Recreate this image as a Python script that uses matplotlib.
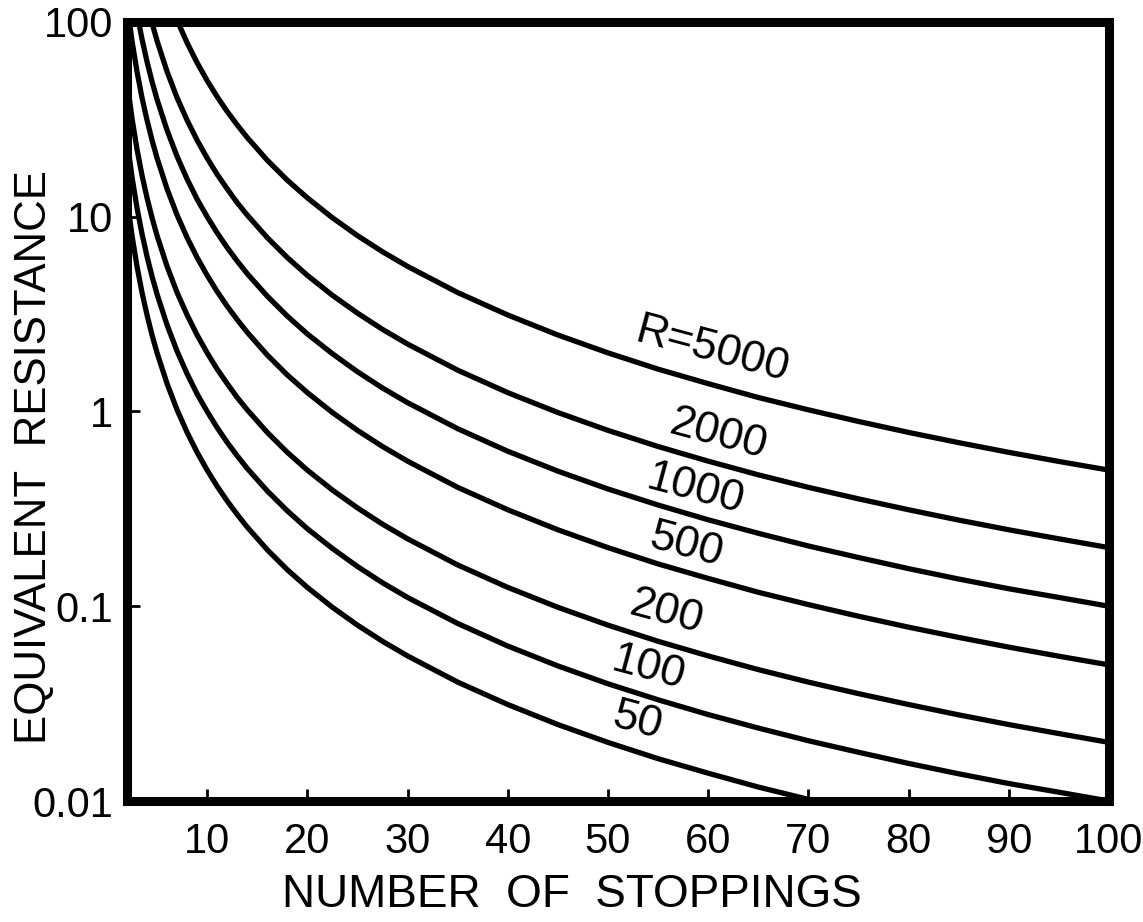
import matplotlib
matplotlib.use('Agg')
from matplotlib import pyplot as plt

plt.rcParams['font.family'] = ['Liberation Sans', 'DejaVu Sans']

# number of stoppings where the curves were read
stoppings = [2, 2.5, 3, 3.5, 4, 4.5, 5, 6, 7, 8, 9, 10, 11, 12, 13, 14, 16, 18,
             20, 22.5, 25, 27.5, 30, 35, 40, 45, 50, 55, 60, 65, 70, 75, 80,
             85, 90, 95, 100]

# equivalent resistance, one list per R
r5000 = [1250, 800, 556, 408, 313, 247, 200, 139, 102, 78.1, 61.7, 50.0, 41.3,
         34.7, 29.6, 25.5, 19.5, 15.4, 12.5, 9.88, 8.00, 6.61, 5.56, 4.08,
         3.13, 2.47, 2.00, 1.65, 1.39, 1.18, 1.02, 0.889, 0.781, 0.692, 0.617,
         0.554, 0.500]
r2000 = [500, 320, 222, 163, 125, 98.8, 80.0, 55.6, 40.8, 31.3, 24.7, 20.0,
         16.5, 13.9, 11.8, 10.2, 7.81, 6.17, 5.00, 3.95, 3.20, 2.64, 2.22,
         1.63, 1.25, 0.988, 0.800, 0.661, 0.556, 0.473, 0.408, 0.356, 0.313,
         0.277, 0.247, 0.222, 0.200]
r1000 = [250, 160, 111, 81.6, 62.5, 49.4, 40.0, 27.8, 20.4, 15.6, 12.3, 10.0,
         8.26, 6.94, 5.92, 5.10, 3.91, 3.09, 2.50, 1.98, 1.60, 1.32, 1.11,
         0.816, 0.625, 0.494, 0.400, 0.331, 0.278, 0.237, 0.204, 0.178, 0.156,
         0.138, 0.123, 0.111, 0.100]
r500 = [125, 80.0, 55.6, 40.8, 31.3, 24.7, 20.0, 13.9, 10.2, 7.81, 6.17, 5.00,
        4.13, 3.47, 2.96, 2.55, 1.95, 1.54, 1.25, 0.988, 0.800, 0.661, 0.556,
        0.408, 0.313, 0.247, 0.200, 0.165, 0.139, 0.118, 0.102, 0.0889,
        0.0781, 0.0692, 0.0617, 0.0554, 0.0500]
r200 = [50.0, 32.0, 22.2, 16.3, 12.5, 9.88, 8.00, 5.56, 4.08, 3.13, 2.47,
        2.00, 1.65, 1.39, 1.18, 1.02, 0.781, 0.617, 0.500, 0.395, 0.320,
        0.264, 0.222, 0.163, 0.125, 0.0988, 0.0800, 0.0661, 0.0556, 0.0473,
        0.0408, 0.0356, 0.0313, 0.0277, 0.0247, 0.0222, 0.0200]
r100 = [25.0, 16.0, 11.1, 8.16, 6.25, 4.94, 4.00, 2.78, 2.04, 1.56, 1.23,
        1.00, 0.826, 0.694, 0.592, 0.510, 0.391, 0.309, 0.250, 0.198, 0.160,
        0.132, 0.111, 0.0816, 0.0625, 0.0494, 0.0400, 0.0331, 0.0278, 0.0237,
        0.0204, 0.0178, 0.0156, 0.0138, 0.0123, 0.0111, 0.0100]
r50 = [12.5, 8.00, 5.56, 4.08, 3.13, 2.47, 2.00, 1.39, 1.02, 0.781, 0.617,
       0.500, 0.413, 0.347, 0.296, 0.255, 0.195, 0.154, 0.125, 0.0988,
       0.0800, 0.0661, 0.0556, 0.0408, 0.0313, 0.0247, 0.0200, 0.0165,
       0.0139, 0.0118, 0.0102, 0.00889, 0.00781, 0.00692, 0.00617, 0.00554,
       0.00500]

series = [r5000, r2000, r1000, r500, r200, r100, r50]
curve_labels = ['R=5000', '2000', '1000', '500', '200', '100', '50']
# where each label sits (x, y) in data units
label_x = [60.4, 61.0, 58.7, 57.8, 55.9, 54.0, 52.9]
label_y = [2.07, 0.757, 0.395, 0.206, 0.093, 0.0482, 0.0258]

fig = plt.figure(figsize=(11.43, 9.22), dpi=100)
ax = fig.add_axes([0.1111, 0.1312, 0.8591, 0.845])

for vals in series:
    ax.plot(stoppings, vals, color='black', lw=3.8, solid_capstyle='butt')

for txt, lx, ly in zip(curve_labels, label_x, label_y):
    ax.text(lx, ly, txt, fontsize=32, rotation=-15, ha='center', va='center',
            rotation_mode='anchor')

ax.set_yscale('log')
ax.set_xlim(2, 100)
ax.set_ylim(0.01, 100)
ax.set_xticks([10, 20, 30, 40, 50, 60, 70, 80, 90, 100])
ax.set_xticklabels(['10', '20', '30', '40', '50', '60', '70', '80', '90', '100'])
ax.set_yticks([0.01, 0.1, 1, 10, 100])
ax.set_yticklabels(['0.01', '0.1', '1', '10', '100'])
ax.minorticks_off()
ax.tick_params(axis='both', direction='in', length=9, width=2, labelsize=30)
ax.tick_params(axis='x', pad=15)
ax.tick_params(axis='y', pad=10)

for s in ax.spines.values():
    s.set_linewidth(6.5)

fig.text(0.5, 0.029, 'NUMBER  OF  STOPPINGS', fontsize=33,
         ha='center', va='center')
fig.text(0.0306, 0.5043, 'EQUIVALENT  RESISTANCE', fontsize=31.5,
         rotation=90, ha='center', va='center')

plt.savefig('out.png', dpi=100)
